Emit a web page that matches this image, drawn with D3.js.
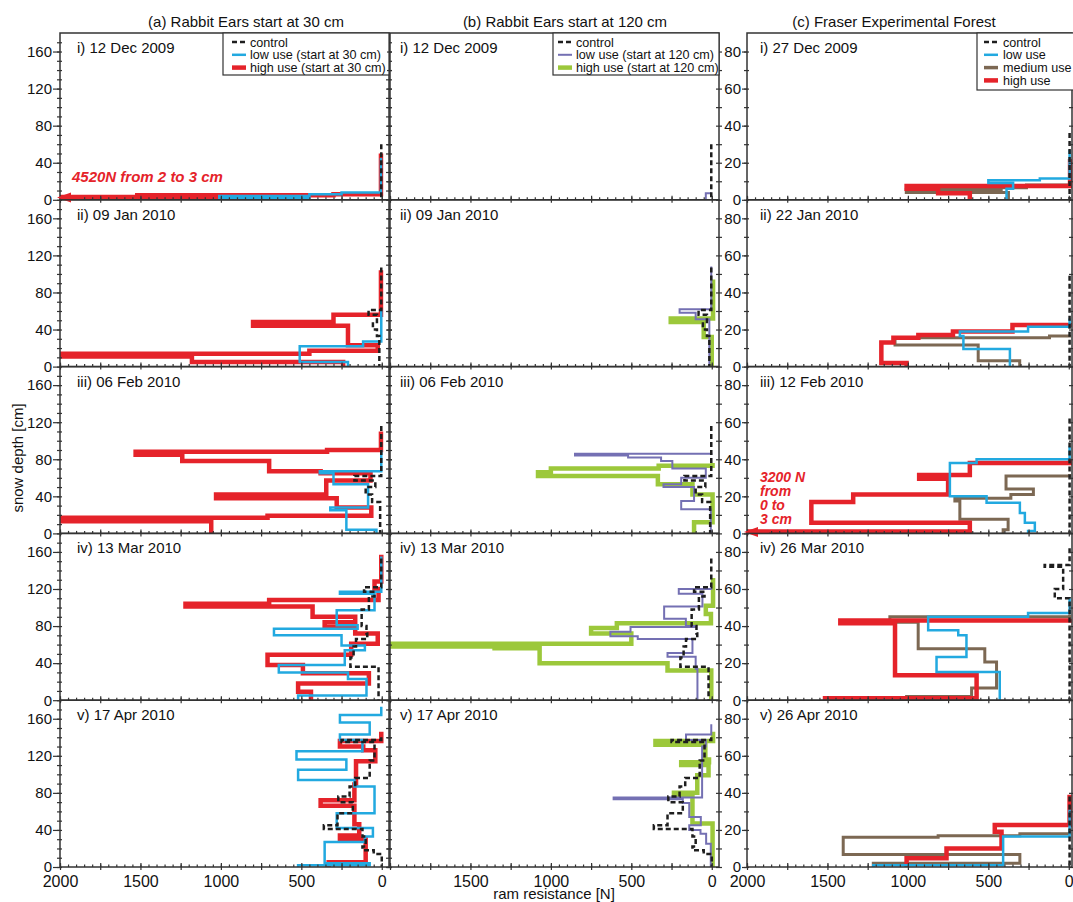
<!DOCTYPE html>
<html><head><meta charset="utf-8">
<script src="https://cdn.jsdelivr.net/npm/d3@7"></script>
<style>
body{margin:0;background:#fff;}
text{font-family:"Liberation Sans",Arial,Helvetica,sans-serif;fill:#111;}
</style>
</head><body>
<svg id="chart" width="1073" height="902"></svg>
<script>
// ---------------- DATA ----------------
const colTitles = ["(a) Rabbit Ears start at 30 cm", "(b) Rabbit Ears start at 120 cm", "(c) Fraser Experimental Forest"];
const rowLabelsAB = ["i) 12 Dec 2009", "ii) 09 Jan 2010", "iii) 06 Feb 2010", "iv) 13 Mar 2010", "v) 17 Apr 2010"];
const rowLabelsC = ["i) 27 Dec 2009", "ii) 22 Jan 2010", "iii) 12 Feb 2010", "iv) 26 Mar 2010", "v) 26 Apr 2010"];
const xTickLabelsA = [2000, 1500, 1000, 500, 0];
const xTickLabelsB = [1500, 1000, 500, 0];
const xTickLabelsC = [2000, 1500, 1000, 500, 0];
const yTickLabelsAB = [0, 40, 80, 120, 160];
const yTickLabelsC = [0, 20, 40, 60, 80];
const legendA = ["control", "low use (start at 30 cm)", "high use (start at 30 cm)"];
const legendB = ["control", "low use (start at 120 cm)", "high use (start at 120 cm)"];
const legendC = ["control", "low use", "medium use", "high use"];
const xTitle = "ram resistance [N]";
const yTitle = "snow depth [cm]";

// profiles: [depth cm, ram resistance N] from snow surface downward; value holds below each depth
const rabbitControl = [
  [[60,3],[0,3]],
  [[107,3],[61,82],[56,30],[48,55],[40,30],[33,15],[0,15]],
  [[116,3],[62,170],[57,40],[50,100],[42,60],[34,10],[0,10]],
  [[153,3],[122,110],[117,45],[112,80],[98,125],[80,95],[72,90],[66,160],[58,175],[46,195],[36,20],[0,20]],
  [[140,3],[137,250],[135,45],[115,75],[96,165],[87,200],[76,270],[70,180],[58,275],[45,360],[41,120],[33,100],[22,120],[18,50],[14,0],[0,0]]
];
const rabbitLow30 = [
  [[45,5],[8,250],[6,450],[4,1010],[2,450],[0,450]],
  [[62,3],[27,116],[22,510],[5,210],[0,210]],
  [[90,3],[67,385],[65,300],[53,85],[28,320],[25,220],[4,33],[0,33]],
  [[155,3],[117,260],[115,45],[97,280],[81,150],[77,670],[70,250],[59,105],[54,230],[38,640],[30,210],[23,95],[5,520],[0,520]],
  [[173,3],[164,260],[156,75],[143,260],[137,120],[125,530],[116,220],[105,520],[94,170],[87,45],[58,280],[42,55],[33,105],[27,355],[4,75],[2,520],[0,520]]
];
const rabbitHigh30 = [
  [[50,5],[6,300],[5,1520],[3,4520],[2,1000],[0,1000]],
  [[104,5],[56,300],[48,800],[44,210],[23,25],[17,450],[14,2100],[11,1180],[5,240],[0,240]],
  [[110,5],[90,340],[88,1530],[85,1240],[78,700],[67,380],[65,70],[57,345],[42,1030],[38,280],[28,65],[19,710],[17,2050],[13,1060],[0,1060]],
  [[157,3],[128,45],[120,20],[108,700],[104,1220],[101,430],[90,165],[84,355],[79,165],[72,25],[61,190],[49,710],[38,490],[29,80],[18,520],[9,440],[0,440]],
  [[146,3],[136,260],[130,115],[126,40],[114,160],[89,170],[72,380],[66,170],[46,140],[34,260],[30,100],[5,330],[0,330]]
];
const rabbitLow120 = [
  [[7,3],[7,37],[0,37]],
  [[108,3],[62,200],[58,100],[51,15],[0,15]],
  [[87,3],[86,850],[84,520],[82,315],[78,245],[70,37],[60,190],[53,300],[50,110],[35,190],[26,6],[0,6]],
  [[122,3],[120,205],[115,58],[101,296],[88,161],[80,100],[79,505],[74,630],[69,460],[66,120],[51,275],[47,100],[34,89],[0,89]],
  [[154,3],[143,160],[137,37],[130,60],[75,610],[73,180],[69,140],[54,68],[45,140],[40,70],[36,35],[25,6],[0,6]]
];
const rabbitHigh120 = [
  [],
  [[94,-8],[52,255],[48,50],[32,0],[0,0]],
  [[76,-5],[73,330],[70,1000],[66,1080],[62,335],[53,120],[42,-5],[12,110],[0,110]],
  [[132,-8],[102,37],[93,5],[83,590],[78,750],[72,500],[61,2100],[58,1350],[56,1070],[40,275],[32,3],[0,3]],
  [[146,-8],[136,350],[132,40],[116,17],[113,190],[110,20],[99,90],[80,235],[77,120],[47,-5],[0,-5]]
];
const fraserControl = [
  [[36,-5],[0,-5]],
  [[49,-5],[0,-5]],
  [[62,-5],[0,-5]],
  [[82,-5],[73,150],[72,35],[60,87],[55,-5],[0,-5]],
  [[38,-5],[0,-5]]
];
const fraserLow = [
  [[27,-5],[11.5,180],[10.5,500],[9,346],[6,387],[0,387]],
  [[26,-5],[21.5,253],[19,677],[16.5,655],[9.5,366],[0,366]],
  [[47,-5],[40,573],[38,739],[20,511],[16.5,304],[11,273],[5.8,211],[1.3,253],[0,253]],
  [[55,-5],[47,253],[45,874],[37.7,687],[35,636],[23.3,822],[15.2,429],[0,429]],
  [[31,-5],[16.4,408],[1,1215],[0,1215]]
];
const fraserMedium = [
  [[9.5,-5],[8,263],[6.5,420],[5.5,1010],[4,375],[0,375]],
  [[17,-5],[16.5,120],[15.5,1080],[11.7,563],[3.2,305],[0,305]],
  [[32,-5],[31,390],[24,220],[21,360],[19,708],[17.5,677],[7.6,377],[2,408],[0,408]],
  [[46,-5],[45,1112],[42,936],[27.8,522],[20.6,449],[6.6,604],[2,1008],[0,1008]],
  [[19,-5],[18,304],[16.8,812],[16,1402],[6.8,304],[2,1215],[0,1215]]
];
const fraserHigh = [
  [[22,-8],[7.5,1008],[6,812],[3.5,615],[0,615]],
  [[23.5,-5],[22.5,350],[19,720],[17,935],[15.5,1090],[13,1165],[2,1008],[0,1008]],
  [[40,-8],[38,615],[31.5,930],[29.5,750],[21,1340],[17,1600],[5.8,615],[1,3200],[0,3200]],
  [[44,-5],[43,1420],[41.5,1080],[13.4,573],[1,1515],[0,1515]],
  [[39,-5],[22.7,460],[19,418],[10,760],[4.7,1008],[0,1008]]
];
// annotations: column, row, depth of arrow, text lines
const annotations = [
  {col:0, row:0, depth:2.5, lines:["4520N from 2 to 3 cm"]},
  {col:2, row:2, depth:0.8, lines:["3200 N","from","0 to","3 cm"]}
];

// ---------------- STYLE / LAYOUT ----------------
const C = {ctrl:"#1e1e1e", red:"#e5232a", blue:"#22a9e0", purple:"#7470b3", green:"#9cc83b", brown:"#7c6853", frame:"#333"};
const rowTop = 33, rowH = 166.8, nRows = 5;
const cols = [
  {x0:60, x1:389, xDom:[2000,-45], yMax:180, labels:rowLabelsAB, yLabels:yTickLabelsAB, yMinor:10, xLabels:xTickLabelsA, titleX:246,
   series:[{d:rabbitHigh30,c:C.red,w:4.5},{d:rabbitLow30,c:C.blue,w:2.5},{d:rabbitControl,c:C.ctrl,w:2.5,dash:"5,3"}],
   legend:{x0:223,x1:389,y1:75,names:legendA,sty:[{c:C.ctrl,w:2.5,dash:"5,3"},{c:C.blue,w:2.5},{c:C.red,w:4.5}],sx:232,tx:250}},
  {x0:390, x1:719, xDom:[2000,-45], yMax:180, labels:rowLabelsAB, yLabels:null, yMinor:20, xLabels:xTickLabelsB, titleX:565,
   series:[{d:rabbitHigh120,c:C.green,w:4.5},{d:rabbitLow120,c:C.purple,w:2},{d:rabbitControl,c:C.ctrl,w:2.5,dash:"5,3"}],
   legend:{x0:553,x1:719,y1:75,names:legendB,sty:[{c:C.ctrl,w:2.5,dash:"5,3"},{c:C.purple,w:2},{c:C.green,w:4.5}],sx:558,tx:576}},
  {x0:747, x1:1072, xDom:[2000,-20], yMax:90, labels:rowLabelsC, yLabels:yTickLabelsC, yMinor:10, xLabels:xTickLabelsC, titleX:894,
   series:[{d:fraserMedium,c:C.brown,w:3},{d:fraserHigh,c:C.red,w:4.5},{d:fraserLow,c:C.blue,w:2.5},{d:fraserControl,c:C.ctrl,w:2.5,dash:"5,3"}],
   legend:{x0:977,x1:1080,y1:90,names:legendC,sty:[{c:C.ctrl,w:2.5,dash:"5,3"},{c:C.blue,w:2.5},{c:C.brown,w:3.5},{c:C.red,w:4.5}],sx:984,tx:1003}}
];

const svg = d3.select("#chart");
const defs = svg.append("defs");

cols.forEach((col, ci) => {
  const x = d3.scaleLinear().domain(col.xDom).range([col.x0, col.x1]);
  svg.append("text").attr("x", col.titleX).attr("y", 27)
    .attr("text-anchor","middle").attr("font-size",15).text(colTitles[ci]);

  for (let r = 0; r < nRows; r++) {
    const top = rowTop + r * rowH, bot = top + rowH;
    const y = d3.scaleLinear().domain([0, col.yMax]).range([bot, top]);
    const g = svg.append("g");
    const cid = `clip${ci}_${r}`;
    defs.append("clipPath").attr("id", cid).append("rect")
      .attr("x", col.x0).attr("y", top).attr("width", col.x1 - col.x0).attr("height", rowH);

    const line = d3.line().x(d => x(d[1])).y(d => y(d[0])).curve(d3.curveStepBefore);
    const pg = g.append("g").attr("clip-path", `url(#${cid})`);
    col.series.forEach(s => {
      const prof = s.d[r];
      if (!prof || !prof.length) return;
      pg.append("path").attr("d", line(prof)).attr("fill","none")
        .attr("stroke", s.c).attr("stroke-width", s.w)
        .attr("stroke-dasharray", s.dash || null).attr("stroke-linejoin","miter");
    });

    const xMinor = d3.axisBottom(x).tickValues(d3.range(0, 2001, 50)).tickSize(-2.5).tickFormat("");
    const xMajor = d3.axisBottom(x).tickValues(d3.range(0, 2001, 250)).tickSize(3).tickFormat("");
    const gx1 = g.append("g").attr("transform", `translate(0,${bot})`).call(xMinor);
    const gx2 = g.append("g").attr("transform", `translate(0,${bot})`).call(xMajor);
    gx2.selectAll(".tick line").attr("y1", -4);
    [gx1, gx2].forEach(a => { a.select(".domain").remove(); a.selectAll("line").attr("stroke", C.frame).attr("stroke-width", 1.2); });
    if (r === nRows - 1) {
      const xl = d3.axisBottom(x).tickValues(col.xLabels).tickSize(0).tickPadding(9).tickFormat(d3.format("d"));
      const gl = g.append("g").attr("transform", `translate(0,${bot})`).call(xl);
      gl.select(".domain").remove();
      gl.selectAll("text").attr("font-size", 16).attr("fill","#111").attr("font-family","Liberation Sans, Arial, sans-serif");
    }

    const yMinorAx = d3.axisLeft(y).tickValues(d3.range(0, col.yMax, col.yMinor)).tickSize(3).tickFormat("");
    const gy1 = g.append("g").attr("transform", `translate(${col.x0},0)`).call(yMinorAx);
    gy1.selectAll(".tick line").attr("x2", -3).attr("x1", 2);
    gy1.select(".domain").remove();
    gy1.selectAll("line").attr("stroke", C.frame).attr("stroke-width", 1.2);
    if (col.yLabels) {
      const yl = d3.axisLeft(y).tickValues(col.yLabels).tickSize(ci === 0 ? 7 : 5).tickPadding(1);
      const gyl = g.append("g").attr("transform", `translate(${col.x0},0)`).call(yl);
      gyl.select(".domain").remove();
      gyl.selectAll("line").attr("stroke", C.frame).attr("stroke-width", 1.2);
      gyl.selectAll("text").attr("font-size", 15).attr("fill","#111").attr("font-family","Liberation Sans, Arial, sans-serif");
    }
    const yR = d3.axisRight(y).tickValues(d3.range(0, col.yMax, col.yMinor)).tickSize(3).tickFormat("");
    const gyr = g.append("g").attr("transform", `translate(${col.x1},0)`).call(yR);
    gyr.selectAll(".tick line").attr("x1", -3);
    gyr.select(".domain").remove();
    gyr.selectAll("line").attr("stroke", C.frame).attr("stroke-width", 1.2);

    g.append("rect").attr("x", col.x0).attr("y", top).attr("width", col.x1 - col.x0).attr("height", rowH)
      .attr("fill","none").attr("stroke", C.frame).attr("stroke-width", 1.5);

    g.append("text").attr("x", col.x0 + (ci === 2 ? 13 : ci === 0 ? 17 : 10)).attr("y", top + 20)
      .attr("font-size", 15).text(col.labels[r]);

    if (r === 0) {
      const L = col.legend;
      const lg = svg.append("g");
      lg.append("rect").attr("x", L.x0).attr("y", top).attr("width", L.x1 - L.x0).attr("height", L.y1 - top)
        .attr("fill","#fff").attr("stroke", C.frame).attr("stroke-width", 1.2);
      L.names.forEach((nm, i) => {
        const yy = top + 9 + i * 12.8;
        const st = L.sty[i];
        lg.append("line").attr("x1", L.sx).attr("x2", L.sx + 14).attr("y1", yy).attr("y2", yy)
          .attr("stroke", st.c).attr("stroke-width", st.w).attr("stroke-dasharray", st.dash || null);
        lg.append("text").attr("x", L.tx).attr("y", yy + 4.5).attr("font-size", 12.6).text(nm);
      });
    }

    annotations.filter(a => a.col === ci && a.row === r).forEach(a => {
      const ay = y(a.depth), ax = x(2000);
      g.append("path").attr("d", `M${ax - 3},${ay} L${ax + 11},${ay - 5} L${ax + 11},${ay + 5} Z`).attr("fill", C.red);
      g.append("line").attr("x1", ax + 8).attr("x2", ax + 22).attr("y1", ay).attr("y2", ay).attr("stroke", C.red).attr("stroke-width", 4);
      if (a.lines.length === 1) {
        g.append("text").attr("x", ax + 12).attr("y", ay - 15).attr("font-size", 15).attr("font-weight","bold")
          .attr("font-style","italic").style("fill", C.red).text(a.lines[0]);
      } else {
        a.lines.forEach((t, i) => {
          g.append("text").attr("x", ax + 13).attr("y", ay - 50 + i * 14).attr("font-size", 14).attr("font-weight","bold")
            .attr("font-style","italic").style("fill", C.red).text(t);
        });
      }
    });
  }
});

svg.append("text").attr("transform", "translate(23,458) rotate(-90)").attr("text-anchor","middle")
  .attr("font-size", 15).text(yTitle);
svg.append("text").attr("x", 554).attr("y", 899).attr("text-anchor","middle").attr("font-size", 15).text(xTitle);
</script>
</body></html>
